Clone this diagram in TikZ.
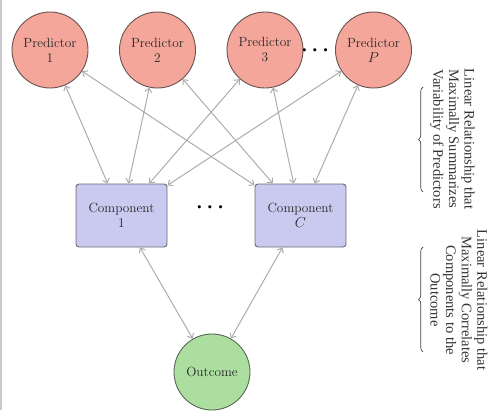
\documentclass[tikz,border=0pt]{standalone}
\usepackage{amsmath}
\usepackage{fontspec}
\newfontfamily\timesf{Liberation Serif}
\usetikzlibrary{arrows.meta,decorations.pathreplacing}
\definecolor{predfill}{RGB}{244,166,154}
\definecolor{predline}{RGB}{105,82,80}
\definecolor{compfill}{RGB}{202,202,240}
\definecolor{compline}{RGB}{105,105,115}
\definecolor{outfill}{RGB}{172,222,160}
\definecolor{outline}{RGB}{88,105,88}
\definecolor{arrowc}{RGB}{172,172,172}
\begin{document}
\begin{tikzpicture}[x=1pt,y=-1pt,
  pred/.style={circle,draw=predline,fill=predfill,line width=0.9pt,minimum size=76pt,inner sep=0pt,align=center,text=black!85,font=\fontsize{13.3}{15}\selectfont},
  comp/.style={rectangle,rounded corners=3pt,draw=compline,fill=compfill,line width=0.9pt,minimum width=91pt,minimum height=63pt,inner sep=0pt,align=center,text=black!85,font=\fontsize{13.3}{15}\selectfont},
  outc/.style={circle,draw=outline,fill=outfill,line width=0.9pt,minimum size=76pt,inner sep=0pt,align=center,text=black!85,font=\fontsize{13.3}{15}\selectfont},
  link/.style={draw=arrowc,line width=1pt,{Straight Barb[length=4pt,width=7pt]}-{Straight Barb[length=4pt,width=7pt]}},
  dotsnode/.style={anchor=base,inner sep=0pt,font=\fontsize{20}{20}\selectfont},
  note/.style={rotate=-90,align=center,inner sep=0pt,text=black!80,font=\timesf\fontsize{14.5}{15.6}\selectfont},
  bracestyle/.style={decorate,decoration={brace,amplitude=4.5pt},line width=0.7pt,draw=black!75}]
\useasboundingbox (0,0) rectangle (495,410);
\draw[black!20,line width=1.5pt] (1,0) -- (1,410);

\node[pred] (p1) at (50,50) {Predictor\\1};
\node[pred] (p2) at (157.5,50) {Predictor\\2};
\node[pred] (p3) at (265,50) {Predictor\\3};
\node[pred] (pP) at (373.5,50) {Predictor\\$P$};
\node[dotsnode] (pd) at (317,55) {$\boldsymbol{\cdots}$};

\node[comp] (c1) at (121.5,215.5) {Component\\1};
\node[comp] (cC) at (300.5,215.5) {Component\\$C$};
\node[dotsnode] (cd) at (212,212) {$\boldsymbol{\cdots}$};

\node[outc] (o) at (212,372) {Outcome};

\foreach \p in {p1,p2,p3,pP}{
  \foreach \c in {c1,cC}{
    \draw[link] (\c) -- (\p);
  }
}
\draw[link] (o) -- (c1);
\draw[link] (o) -- (cC);

\node[note] (n1) at (452.5,139) {Linear Relationship that\\Maximally Summarizes\\Variability of Predictors};
\node[note] (n2) at (459,300) {Linear Relationship that\\Maximally Correlates\\Components to the\\Outcome};

\coordinate (b1s) at (423,192);
\coordinate (b1e) at (423,87);
\coordinate (b2s) at (423,352);
\coordinate (b2e) at (423,247);
\draw[bracestyle] (b1s) -- (b1e);
\draw[bracestyle] (b2s) -- (b2e);
\end{tikzpicture}
\end{document}
